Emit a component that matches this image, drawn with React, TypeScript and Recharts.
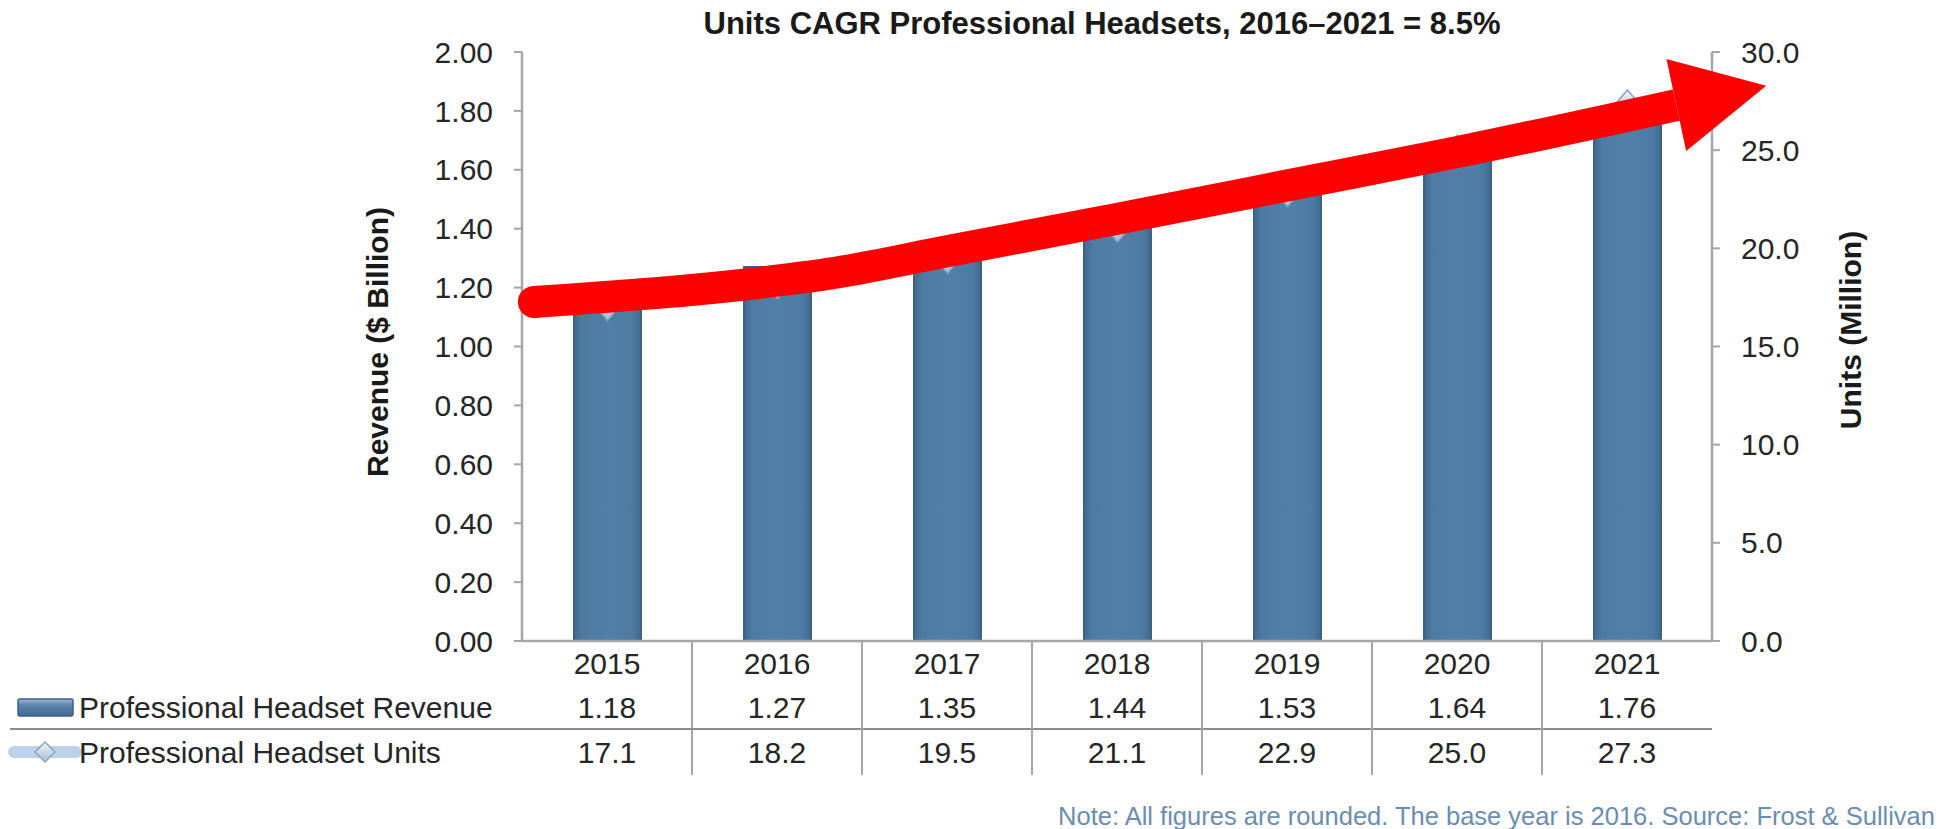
import React from 'react';
import { ComposedChart, Bar, Line, XAxis, YAxis } from 'recharts';

// ---------- data ----------
const years = ['2015', '2016', '2017', '2018', '2019', '2020', '2021'];
const revenue = [1.18, 1.27, 1.35, 1.44, 1.53, 1.64, 1.76];
const units = [17.1, 18.2, 19.5, 21.1, 22.9, 25.0, 27.3];
const revenueTicks = [0, 0.2, 0.4, 0.6, 0.8, 1.0, 1.2, 1.4, 1.6, 1.8, 2.0];
const unitsTicks = [0, 5, 10, 15, 20, 25, 30];
// red trend arrow (category position, units value)
const trendPos = [-0.43, 1, 1.3, 2, 3, 4, 5, 6.29];
const trendUnits = [17.27, 18.35, 18.7, 19.85, 21.5, 23.2, 24.9, 27.3];

const title = 'Units CAGR Professional Headsets, 2016\u20132021 = 8.5%';
const revenueLabel = 'Professional Headset Revenue';
const unitsLabel = 'Professional Headset Units';
const leftAxisTitle = 'Revenue ($ Billion)';
const rightAxisTitle = 'Units (Million)';
const note = 'Note: All figures are rounded. The base year is 2016. Source: Frost & Sullivan';

const data = years.map((year, i) => ({ year, revenue: revenue[i], units: units[i] }));
const trendData = trendPos.map((t, i) => ({ t, v: trendUnits[i] }));

// ---------- style ----------
const FONT = '"Liberation Sans", Arial, Helvetica, sans-serif';
const TEXT = '#262626';
const AXIS = '#a6a6a6';
const RED = '#ff0000';
const SHAFT = 32;
const W = 1947;
const H = 829;

const TableTick = (props: any) => {
  const { x, y, index, width } = props;
  const n = years.length;
  const band = typeof width === 'number' && width > 0 ? width / n : 170;
  const i = index;
  const ts = { fontSize: 30, fill: TEXT, fontFamily: FONT } as any;
  return (
    <g>
      <text x={x} y={y + 22} textAnchor="middle" dominantBaseline="central" {...ts}>{years[i]}</text>
      <text x={x} y={y + 66} textAnchor="middle" dominantBaseline="central" {...ts}>{revenue[i].toFixed(2)}</text>
      <text x={x} y={y + 111} textAnchor="middle" dominantBaseline="central" {...ts}>{units[i].toFixed(1)}</text>
      {i < n - 1 && (
        <line x1={x + band / 2} x2={x + band / 2} y1={y} y2={y + 134} stroke={AXIS} strokeWidth={2} />
      )}
      {i === 0 && (
        <g>
          <line x1={10} x2={x + band * (n - 0.5)} y1={y + 88} y2={y + 88} stroke="#8c8c8c" strokeWidth={2} />
          <rect x={18} y={y + 58} width={55} height={17} fill="url(#legendBar)" stroke="#3d6285" strokeWidth={1.5} rx={2} />
          <text x={79} y={y + 66} textAnchor="start" dominantBaseline="central" {...ts}>{revenueLabel}</text>
          <line x1={14} x2={76} y1={y + 111} y2={y + 111} stroke="#bcd2ea" strokeWidth={12} strokeLinecap="round" />
          <path
            d={`M45,${y + 101} L55,${y + 111} L45,${y + 121} L35,${y + 111} Z`}
            fill="url(#diamondGrad)"
            stroke="#8da5bf"
            strokeWidth={1.5}
          />
          <text x={79} y={y + 111} textAnchor="start" dominantBaseline="central" {...ts}>{unitsLabel}</text>
        </g>
      )}
    </g>
  );
};

// diamond marker placed at the top of an invisible "units" bar
const DiamondShape = (p: any) => {
  const { x, y, width } = p;
  if (x == null || y == null) return <g />;
  const cx = x + width / 2;
  const cy = y;
  return (
    <path
      d={`M${cx},${cy - 15} L${cx + 13},${cy} L${cx},${cy + 15} L${cx - 13},${cy} Z`}
      fill="url(#diamondGrad)"
      stroke="#8da5bf"
      strokeWidth={1.5}
    />
  );
};

const makeArrowDots = () => {
  const pts: { x: number; y: number }[] = [];
  return (p: any) => {
    const { cx, cy, index } = p;
    pts[index] = { x: cx, y: cy };
    if (index === 0) return <circle key={`a${index}`} cx={cx} cy={cy} r={SHAFT / 2} fill={RED} />;
    if (index !== trendPos.length - 1) return <g key={`a${index}`} />;
    const prev = pts[index - 1] ?? { x: cx - 100, y: cy };
    const dx = cx - prev.x;
    const dy = cy - prev.y;
    const len = Math.hypot(dx, dy) || 1;
    const ux = dx / len;
    const uy = dy / len;
    const px = -uy;
    const py = ux;
    const L = 92;
    const HW = 47;
    const tri = [
      [cx + ux * L, cy + uy * L],
      [cx + px * HW, cy + py * HW],
      [cx - px * HW, cy - py * HW],
    ]
      .map((q) => q.join(','))
      .join(' ');
    return <polygon key={`a${index}`} points={tri} fill={RED} />;
  };
};

export default function App() {
  const arrowDots = makeArrowDots();
  return (
    <div style={{ position: 'absolute', left: 0, top: 0, width: W, height: H, background: '#ffffff' }}>
      <ComposedChart
        width={W}
        height={H}
        data={data}
        margin={{ top: 52, right: 35, bottom: 48, left: 322 }}
      >
        <XAxis
          dataKey="year"
          height={140}
          axisLine={{ stroke: AXIS, strokeWidth: 2.5 }}
          tickLine={false}
          tickSize={0}
          tickMargin={0}
          interval={0}
          tick={<TableTick />}
        />
        <XAxis xAxisId="m" dataKey="year" hide />
        <XAxis xAxisId="t" type="number" dataKey="t" domain={[-0.5, 6.5]} hide />
        <YAxis
          yAxisId="left"
          width={200}
          domain={[0, 2]}
          ticks={revenueTicks}
          interval={0}
          tickFormatter={(v: number) => v.toFixed(2)}
          axisLine={{ stroke: AXIS, strokeWidth: 2.5 }}
          tickLine={{ stroke: AXIS, strokeWidth: 2 }}
          tickSize={8}
          tickMargin={21}
          tick={{ fontSize: 30, fill: TEXT, fontFamily: FONT }}
        />
        <YAxis
          yAxisId="right"
          orientation="right"
          width={200}
          domain={[0, 30]}
          ticks={unitsTicks}
          interval={0}
          tickFormatter={(v: number) => v.toFixed(1)}
          axisLine={{ stroke: AXIS, strokeWidth: 2.5 }}
          tickLine={{ stroke: AXIS, strokeWidth: 2 }}
          tickSize={8}
          tickMargin={21}
          tick={{ fontSize: 30, fill: TEXT, fontFamily: FONT }}
        />
        <Bar
          yAxisId="left"
          dataKey="revenue"
          barSize={67}
          fill="url(#barGrad)"
          stroke="#3d6285"
          strokeWidth={2}
          isAnimationActive={false}
        />
        <Line
          yAxisId="right"
          dataKey="units"
          type="linear"
          stroke="#bcd2ea"
          strokeWidth={8}
          dot={false}
          activeDot={false}
          isAnimationActive={false}
        />
        <Bar
          xAxisId="m"
          yAxisId="right"
          dataKey="units"
          barSize={67}
          shape={DiamondShape}
          isAnimationActive={false}
        />
        <Line
          xAxisId="t"
          yAxisId="right"
          data={trendData}
          dataKey="v"
          type="monotone"
          stroke={RED}
          strokeWidth={SHAFT}
          dot={arrowDots}
          activeDot={false}
          isAnimationActive={false}
        />
      </ComposedChart>
      <svg
        width={W}
        height={H}
        style={{ position: 'absolute', left: 0, top: 0, pointerEvents: 'none' }}
      >
        <defs>
          <linearGradient id="barGrad" x1="0" y1="0" x2="1" y2="0">
            <stop offset="0%" stopColor="#3f6990" />
            <stop offset="12%" stopColor="#4d7ba3" />
            <stop offset="50%" stopColor="#517fa7" />
            <stop offset="88%" stopColor="#4d7ba3" />
            <stop offset="100%" stopColor="#3f6990" />
          </linearGradient>
          <linearGradient id="legendBar" x1="0" y1="0" x2="0" y2="1">
            <stop offset="0%" stopColor="#9fbad6" />
            <stop offset="35%" stopColor="#5a86ae" />
            <stop offset="100%" stopColor="#3f6990" />
          </linearGradient>
          <linearGradient id="diamondGrad" x1="0" y1="0" x2="0" y2="1">
            <stop offset="0%" stopColor="#eef4fa" />
            <stop offset="100%" stopColor="#a9bcd1" />
          </linearGradient>
        </defs>
        <text x={1102} y={34} textAnchor="middle" fontSize={31} fontWeight="bold" fill="#1a1a1a" fontFamily={FONT}>
          {title}
        </text>
        <text
          x={377}
          y={342}
          transform="rotate(-90 377 342)"
          textAnchor="middle"
          dominantBaseline="central"
          fontSize={30}
          fontWeight="bold"
          fill="#1a1a1a"
          fontFamily={FONT}
        >
          {leftAxisTitle}
        </text>
        <text
          x={1850}
          y={330}
          transform="rotate(-90 1850 330)"
          textAnchor="middle"
          dominantBaseline="central"
          fontSize={30}
          fontWeight="bold"
          fill="#1a1a1a"
          fontFamily={FONT}
        >
          {rightAxisTitle}
        </text>
        <text x={1935} y={816} textAnchor="end" dominantBaseline="central" fontSize={25.5} fill="#6a8db3" fontFamily={FONT}>
          {note}
        </text>
      </svg>
    </div>
  );
}
